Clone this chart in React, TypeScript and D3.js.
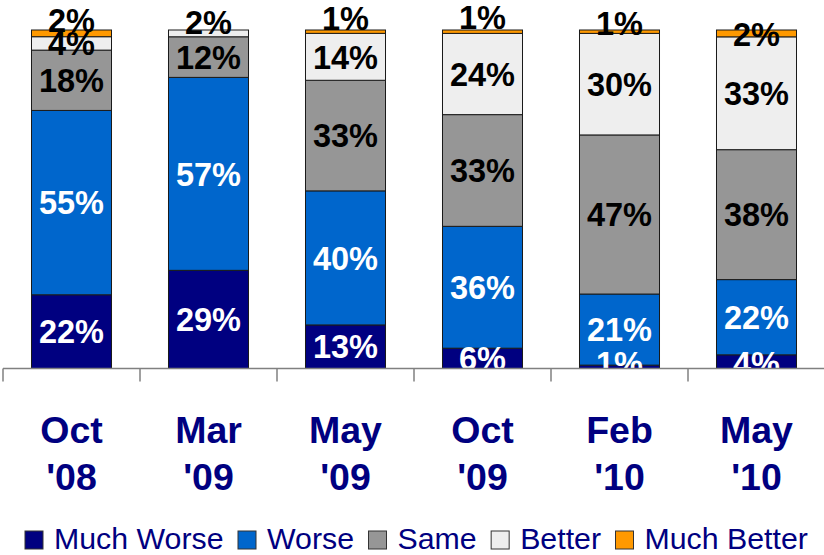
import React, { useEffect, useRef } from "react";
import * as d3 from "d3";

const categories = ["Oct '08", "Mar '09", "May '09", "Oct '09", "Feb '10", "May '10"];
const seriesNames = ["Much Worse", "Worse", "Same", "Better", "Much Better"];
const muchWorse = [22, 29, 13, 6, 1, 4];
const worse = [55, 57, 40, 36, 21, 22];
const same = [18, 12, 33, 33, 47, 38];
const better = [4, 2, 14, 24, 30, 33];
const muchBetter = [2, 0, 1, 1, 1, 2];
const seriesValues = [muchWorse, worse, same, better, muchBetter];

const colors = ["#000080", "#0066CC", "#969696", "#EEEEEE", "#FF9900"];
const labelColors = ["#FFFFFF", "#FFFFFF", "#000000", "#000000", "#000000"];
// small manual nudges of some data labels (series index - category index -> dy px)
const labelNudge: Record<string, number> = {
  "4-0": -13, "3-1": -11, "4-2": -13, "4-3": -14, "4-4": -8, "4-5": 1,
  "0-4": -4, "0-5": 2,
};

const W = 824, H = 555;
const baseY = 368.5, topY = 30;

export default function App() {
  const ref = useRef<SVGSVGElement>(null);
  useEffect(() => {
    const svg = d3.select(ref.current);
    svg.selectAll("*").remove();
    const font = "'Liberation Sans', Arial, sans-serif";

    const x = d3.scaleBand<string>().domain(categories).range([3, 825]).paddingInner(0.416).paddingOuter(0.208);
    const y = d3.scaleLinear().domain([0, 1]).range([baseY, topY]);

    const g = svg.append("g");
    const lab = svg.append("g");
    categories.forEach((c, ci) => {
      const total = d3.sum(seriesValues, (s) => s[ci]);
      let cum = 0;
      seriesValues.forEach((s, si) => {
        const v = s[ci];
        if (v <= 0) return;
        const y0 = y(cum / total);
        const y1 = y((cum + v) / total);
        cum += v;
        g.append("rect")
          .attr("x", x(c)!)
          .attr("width", x.bandwidth())
          .attr("y", y1)
          .attr("height", y0 - y1)
          .attr("fill", colors[si])
          .attr("stroke", "#1a1a1a")
          .attr("stroke-width", 1);
        const nudge = labelNudge[`${si}-${ci}`] || 0;
        lab.append("text")
          .attr("x", x(c)! + x.bandwidth() / 2)
          .attr("y", (y0 + y1) / 2 + nudge)
          .attr("dy", "0.36em")
          .attr("text-anchor", "middle")
          .attr("font-family", font)
          .attr("font-weight", "bold")
          .attr("font-size", 32.5)
          .attr("fill", labelColors[si])
          .text(`${v}%`);
      });
    });

    // x axis
    const ax = svg.append("g");
    ax.append("line").attr("x1", 3).attr("x2", 825).attr("y1", baseY).attr("y2", baseY)
      .attr("stroke", "#808080").attr("stroke-width", 1.5);
    const step = x.step();
    d3.range(categories.length + 1).forEach((i) => {
      const tx = 3 + i * step;
      ax.append("line").attr("x1", tx).attr("x2", tx).attr("y1", baseY).attr("y2", baseY + 13)
        .attr("stroke", "#808080").attr("stroke-width", 1.5);
    });
    categories.forEach((c) => {
      const [a, b] = c.split(" ");
      const t = ax.append("text")
        .attr("x", x(c)! + x.bandwidth() / 2)
        .attr("text-anchor", "middle")
        .attr("font-family", font)
        .attr("font-weight", "bold")
        .attr("font-size", 37.5)
        .attr("fill", "#000080");
      t.append("tspan").attr("x", x(c)! + x.bandwidth() / 2).attr("y", 443).text(a);
      t.append("tspan").attr("x", x(c)! + x.bandwidth() / 2).attr("y", 490).text(b);
    });

    // legend
    const lg = svg.append("g");
    let lx = 25;
    seriesNames.forEach((n, i) => {
      lg.append("rect").attr("x", lx).attr("y", 531).attr("width", 18).attr("height", 18)
        .attr("fill", colors[i]).attr("stroke", "#333").attr("stroke-width", 1);
      const t = lg.append("text").attr("x", lx + 29).attr("y", 549)
        .attr("font-family", font).attr("font-size", 30.3).attr("fill", "#000080").text(n);
      const w = (t.node() as SVGTextElement).getComputedTextLength();
      lx += 29 + w + 14.5;
    });
  }, []);
  return (
    <svg ref={ref} width={W} height={H}
      style={{ position: "absolute", left: 0, top: 0, background: "#fff", display: "block" }} />
  );
}
